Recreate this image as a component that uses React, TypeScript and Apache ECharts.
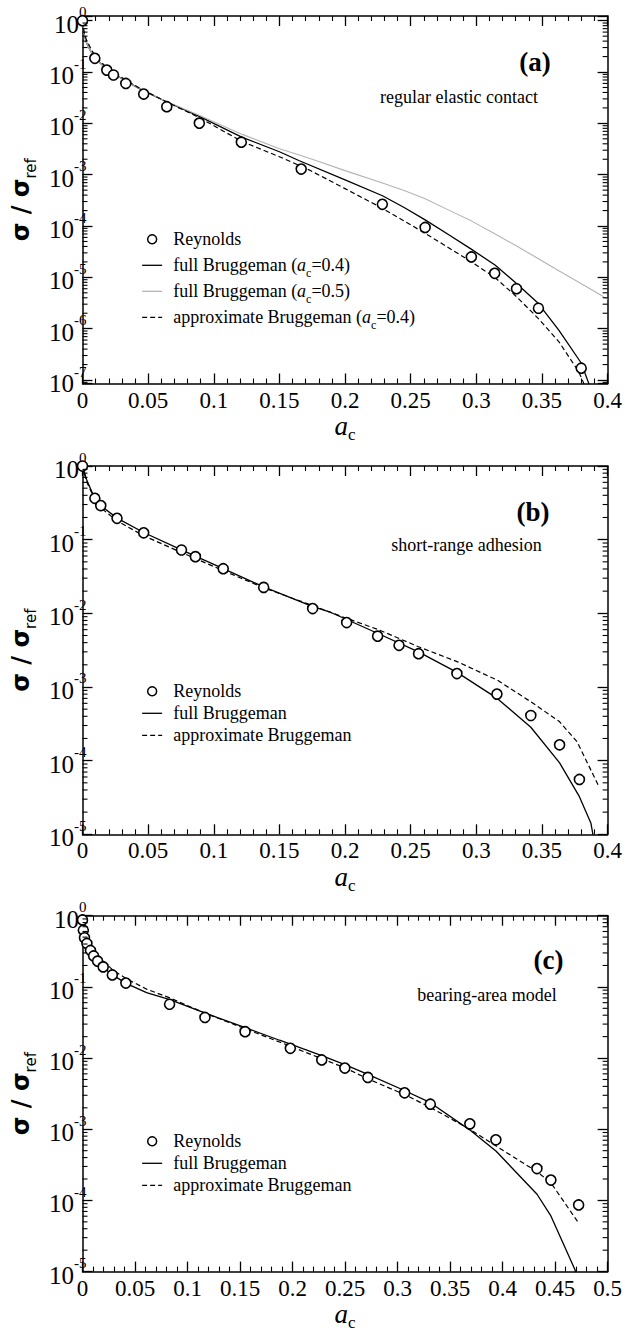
import React, { useEffect, useRef } from 'react';
import * as echarts from 'echarts';

// ---------------- data: panel (a) regular elastic contact ----------------
const aReynoldsX = [0, 0.0094, 0.0185, 0.0236, 0.033, 0.0466, 0.0642, 0.089, 0.121, 0.1666, 0.2284, 0.261, 0.2962, 0.314, 0.3306, 0.3473, 0.3799];
const aReynoldsY = [1, 0.185, 0.109, 0.0875, 0.06, 0.0373, 0.0211, 0.0101, 0.0043, 0.00129, 2.65e-4, 9.4e-5, 2.5e-5, 1.2e-5, 6.0e-6, 2.5e-6, 1.7e-7];
const aFull04X = [0, 0.0011, 0.0027, 0.0057, 0.0093, 0.0184, 0.0336, 0.0462, 0.064, 0.0893, 0.1217, 0.15, 0.1652, 0.2, 0.2285, 0.245, 0.261, 0.279, 0.2961, 0.3142, 0.3306, 0.3471, 0.3628, 0.38, 0.3856, 0.388];
const aFull04Y = [1, 0.57, 0.39, 0.27, 0.19, 0.113, 0.0649, 0.0433, 0.0264, 0.0135, 0.00535, 0.0028, 0.00187, 7.94e-4, 3.89e-4, 2.29e-4, 1.32e-4, 6.76e-5, 3.55e-5, 1.74e-5, 7.6e-6, 3.12e-6, 9.4e-7, 2.12e-7, 8.6e-8, 5e-8];
const aFull05X = [0, 0.0011, 0.0027, 0.0057, 0.0093, 0.0184, 0.0336, 0.0462, 0.064, 0.0893, 0.1217, 0.15, 0.1652, 0.18, 0.2, 0.2285, 0.245, 0.261, 0.279, 0.2961, 0.313, 0.33, 0.346, 0.3628, 0.378, 0.3944, 0.4];
const aFull05Y = [1, 0.57, 0.39, 0.27, 0.19, 0.113, 0.065, 0.0436, 0.0268, 0.0142, 0.0061, 0.0032, 0.00242, 0.0018, 0.0012, 6.92e-4, 4.9e-4, 3.39e-4, 2.04e-4, 1.26e-4, 7.33e-5, 4.17e-5, 2.41e-5, 1.35e-5, 8.0e-6, 4.57e-6, 3.72e-6];
const aApproxX = [0, 0.0011, 0.003, 0.006, 0.0093, 0.0184, 0.0336, 0.0462, 0.064, 0.0893, 0.1217, 0.15, 0.1729, 0.2, 0.2285, 0.261, 0.2961, 0.3142, 0.3306, 0.3471, 0.3628, 0.378, 0.3818, 0.383];
const aApproxY = [1, 0.62, 0.42, 0.3, 0.21, 0.122, 0.068, 0.0445, 0.0262, 0.0128, 0.0044, 0.00224, 0.00123, 5.35e-4, 2.21e-4, 7.2e-5, 2.02e-5, 9.9e-6, 4.2e-6, 1.59e-6, 5.6e-7, 1.45e-7, 8.6e-8, 5e-8];

// ---------------- data: panel (b) short-range adhesion ----------------
const bReynoldsX = [0, 0.0094, 0.0139, 0.0263, 0.0466, 0.0754, 0.086, 0.1072, 0.138, 0.1753, 0.2012, 0.2248, 0.2411, 0.256, 0.2852, 0.3157, 0.3415, 0.3634, 0.3785];
const bReynoldsY = [1, 0.364, 0.29, 0.195, 0.124, 0.0724, 0.0588, 0.0404, 0.0225, 0.0116, 0.0075, 0.0049, 0.00368, 0.00283, 0.00152, 8.0e-4, 4.1e-4, 1.64e-4, 5.55e-5];
const bFullX = [0, 0.003, 0.0094, 0.0139, 0.0263, 0.0466, 0.0754, 0.1072, 0.138, 0.175, 0.188, 0.2247, 0.2559, 0.2853, 0.3159, 0.3415, 0.3633, 0.3785, 0.3873, 0.391];
const bFullY = [1, 0.66, 0.36, 0.29, 0.196, 0.125, 0.0728, 0.0405, 0.0228, 0.0124, 0.0105, 0.00536, 0.003, 0.00158, 7.0e-4, 2.84e-4, 9.4e-5, 3.24e-5, 1.41e-5, 6e-6];
const bApproxX = [0, 0.003, 0.01, 0.0139, 0.0263, 0.0466, 0.0754, 0.1072, 0.138, 0.175, 0.2, 0.2247, 0.2559, 0.2853, 0.3159, 0.3415, 0.3633, 0.3767, 0.3927];
const bApproxY = [1, 0.62, 0.33, 0.27, 0.18, 0.113, 0.067, 0.038, 0.0222, 0.0128, 0.0087, 0.00607, 0.00352, 0.00221, 0.00124, 6.3e-4, 3.39e-4, 1.81e-4, 4.7e-5];

// ---------------- data: panel (c) bearing-area model ----------------
const cReynoldsX = [0, 0.0008, 0.0019, 0.0042, 0.0076, 0.0106, 0.0144, 0.0197, 0.0284, 0.0413, 0.0829, 0.1166, 0.1548, 0.1979, 0.2278, 0.2498, 0.2717, 0.3067, 0.3312, 0.3688, 0.3936, 0.4327, 0.446, 0.4724];
const cReynoldsY = [0.873, 0.625, 0.49, 0.408, 0.325, 0.272, 0.23, 0.191, 0.147, 0.113, 0.057, 0.0372, 0.0235, 0.0137, 0.0094, 0.00724, 0.00535, 0.00325, 0.00225, 0.00119, 7.1e-4, 2.8e-4, 1.93e-4, 8.65e-5];
const cFullX = [0, 0.001, 0.0025, 0.004, 0.0072, 0.0103, 0.0166, 0.0293, 0.042, 0.061, 0.0831, 0.1163, 0.1543, 0.1876, 0.2278, 0.2498, 0.2717, 0.3065, 0.3312, 0.3686, 0.3939, 0.4328, 0.4461, 0.4687, 0.4705];
const cFullY = [0.9, 0.65, 0.5, 0.41, 0.32, 0.27, 0.205, 0.145, 0.111, 0.083, 0.066, 0.043, 0.027, 0.0178, 0.0108, 0.0081, 0.0059, 0.0035, 0.00236, 9.8e-4, 4.9e-4, 1.22e-4, 6.0e-5, 1.08e-5, 9e-6];
const cApproxX = [0, 0.001, 0.0025, 0.005, 0.0103, 0.0166, 0.0293, 0.042, 0.061, 0.0831, 0.1163, 0.1543, 0.1876, 0.2278, 0.2498, 0.2717, 0.3065, 0.3312, 0.3686, 0.3939, 0.4328, 0.4461, 0.4724];
const cApproxY = [0.9, 0.7, 0.56, 0.45, 0.33, 0.255, 0.17, 0.13, 0.093, 0.07, 0.043, 0.026, 0.0168, 0.0098, 0.0073, 0.0051, 0.00308, 0.00203, 1.0e-3, 5.8e-4, 2.53e-4, 1.76e-4, 4.8e-5];

// ---------------- axes / labels ----------------
const xMaxes = [0.4, 0.4, 0.5];
const yRanges: [number, number][] = [[8.55e-8, 1.235], [1e-5, 1], [1e-5, 1]];
const minorMultipliers = [2, 3, 4, 5, 6, 7, 8, 9];
const panelTags = ['(a)', '(b)', '(c)'];
const panelNotes = ['regular elastic contact', 'short-range adhesion', 'bearing-area model'];
const legendNames = [
  ['a:rey', 'a:full04', 'a:full05', 'a:approx'],
  ['b:rey', 'b:full', 'b:approx'],
  ['c:rey', 'c:full', 'c:approx'],
];
const legendLabels: Record<string, string> = {
  'a:rey': 'Reynolds',
  'a:full04': 'full Bruggeman ({i|a}{s|c}=0.4)',
  'a:full05': 'full Bruggeman ({i|a}{s|c}=0.5)',
  'a:approx': 'approximate Bruggeman ({i|a}{s|c}=0.4)',
  'b:rey': 'Reynolds',
  'b:full': 'full Bruggeman',
  'b:approx': 'approximate Bruggeman',
  'c:rey': 'Reynolds',
  'c:full': 'full Bruggeman',
  'c:approx': 'approximate Bruggeman',
};

// ---------------- layout ----------------
const SERIF = "'Liberation Serif', 'Times New Roman', serif";
const GRID_LEFT = 82.5;
const GRID_W = 526.5;
const gridBoxes = [
  { top: 16, height: 367.5 },
  { top: 466, height: 368.3 },
  { top: 915.7, height: 368.3 },
];
const legendTops = [225.3, 677.3, 1127.3];
const tagPos = [[535, 62], [533, 512], [548.5, 960]];
const notePos = [[459, 97], [466.5, 545], [487, 995]];

const zip = (xs: number[], ys: number[]) => xs.map((x, i) => [x, ys[i]]);

function buildOption() {
  const grid = gridBoxes.map((g) => ({ left: GRID_LEFT, width: GRID_W, top: g.top, height: g.height, containLabel: false }));
  const axisLine = { show: true, onZero: false, lineStyle: { color: '#000', width: 1.5 } };
  const xAxis: any[] = [];
  const yAxis: any[] = [];
  for (let i = 0; i < 3; i++) {
    const xb = {
      type: 'value', gridIndex: i, min: 0, max: xMaxes[i], interval: 0.05,
      axisLine,
      axisTick: { show: true, inside: true, length: 10, lineStyle: { color: '#000', width: 1.3 } },
      minorTick: { show: true, splitNumber: 5, length: 5, lineStyle: { color: '#000', width: 1.1 } },
      splitLine: { show: false }, minorSplitLine: { show: false },
    };
    xAxis.push({
      ...xb, position: 'bottom',
      axisLabel: {
        show: true, margin: 5, color: '#000', fontFamily: SERIF, fontSize: 23,
        formatter: (v: number) => '{t|' + String(+v.toFixed(2)) + '}',
        rich: { t: { fontFamily: SERIF, fontSize: 23, color: '#000' } },
      },
      name: '{i|a}{s|c}', nameLocation: 'middle', nameGap: 7,
      nameTextStyle: {
        color: '#000', fontFamily: SERIF,
        rich: {
          i: { fontFamily: SERIF, fontStyle: 'italic', fontSize: 27, lineHeight: 34, color: '#000' },
          s: { fontFamily: SERIF, fontSize: 17, lineHeight: 34, verticalAlign: 'bottom', color: '#000' },
        },
      },
    });
    xAxis.push({ ...xb, position: 'top', axisLabel: { show: false } });

    const yb = {
      type: 'log', logBase: 10, gridIndex: i, min: yRanges[i][0], max: yRanges[i][1], splitNumber: 10,
      axisLine,
      axisTick: { show: true, inside: true, length: 10, lineStyle: { color: '#000', width: 1.3 } },
      minorTick: { show: false }, splitLine: { show: false }, minorSplitLine: { show: false },
    };
    yAxis.push({
      ...yb, position: 'left',
      axisLabel: {
        show: true, margin: -4, color: '#000', fontFamily: SERIF,
        formatter: (v: number) => {
          const e = Math.log10(v);
          if (Math.abs(e - Math.round(e)) > 1e-6) return '';
          return `{b|10}{s|${Math.round(e)}}`;
        },
        rich: {
          b: { fontFamily: SERIF, fontSize: 25, lineHeight: 32, verticalAlign: 'bottom', color: '#000' },
          s: { fontFamily: SERIF, fontSize: 15, lineHeight: 32, verticalAlign: 'top', color: '#000' },
        },
      },
      name: '{m|σ / σ}{r|ref}', nameLocation: 'middle', nameRotate: 90, nameGap: 44,
      nameTextStyle: {
        color: '#000',
        rich: {
          m: { fontFamily: 'DejaVu Sans', fontWeight: 'bold', fontSize: 24, lineHeight: 34, color: '#000' },
          r: { fontFamily: 'DejaVu Sans', fontSize: 15, lineHeight: 34, verticalAlign: 'bottom', color: '#000' },
        },
      },
    });
    yAxis.push({ ...yb, position: 'right', axisLabel: { show: false } });
  }

  const lineS = (name: string, p: number, xs: number[], ys: number[], color: string, width: number, dashed: boolean) => ({
    name, type: 'line', xAxisIndex: 2 * p, yAxisIndex: 2 * p, data: zip(xs, ys),
    symbol: 'none', showSymbol: false, smooth: false, z: 2,
    lineStyle: { color, width, type: dashed ? [5, 3] : 'solid' },
    itemStyle: { color },
  });
  const scatS = (name: string, p: number, xs: number[], ys: number[]) => ({
    name, type: 'scatter', xAxisIndex: 2 * p, yAxisIndex: 2 * p, data: zip(xs, ys),
    symbol: 'circle', symbolSize: 10, z: 3,
    itemStyle: { color: '#fff', borderColor: '#000', borderWidth: 1.6, opacity: 1 },
  });
  const minorS = (p: number) => {
    const [lo, hi] = yRanges[p];
    const vals: number[][] = [];
    for (let e = Math.floor(Math.log10(lo)) - 1; e <= Math.ceil(Math.log10(hi)); e++) {
      for (const k of minorMultipliers) {
        const v = k * Math.pow(10, e);
        if (v > lo && v < hi) vals.push([0, v]);
      }
    }
    const xMax = xMaxes[p];
    return {
      type: 'custom', xAxisIndex: 2 * p, yAxisIndex: 2 * p, silent: true, clip: false, z: 5,
      data: vals,
      renderItem: (_params: any, api: any) => {
        const v = api.value(1);
        const l = api.coord([0, v]);
        const r = api.coord([xMax, v]);
        const st = { stroke: '#000', lineWidth: 1.1 };
        return {
          type: 'group',
          children: [
            { type: 'line', shape: { x1: l[0], y1: l[1], x2: l[0] + 5, y2: l[1] }, style: st },
            { type: 'line', shape: { x1: r[0], y1: r[1], x2: r[0] - 5, y2: r[1] }, style: st },
          ],
        };
      },
    };
  };

  const series: any[] = [
    lineS('a:full04', 0, aFull04X, aFull04Y, '#000', 1.3, false),
    lineS('a:full05', 0, aFull05X, aFull05Y, '#b4b4b4', 1.1, false),
    lineS('a:approx', 0, aApproxX, aApproxY, '#000', 1.2, true),
    scatS('a:rey', 0, aReynoldsX, aReynoldsY),
    lineS('b:full', 1, bFullX, bFullY, '#000', 1.3, false),
    lineS('b:approx', 1, bApproxX, bApproxY, '#000', 1.2, true),
    scatS('b:rey', 1, bReynoldsX, bReynoldsY),
    lineS('c:full', 2, cFullX, cFullY, '#000', 1.3, false),
    lineS('c:approx', 2, cApproxX, cApproxY, '#000', 1.2, true),
    scatS('c:rey', 2, cReynoldsX, cReynoldsY),
    minorS(0), minorS(1), minorS(2),
  ];

  const legend = legendNames.map((names, p) => ({
    data: names.map((n) => n.endsWith('rey')
      ? { name: n, itemStyle: { color: '#fff', borderColor: '#000', borderWidth: 1.5 } }
      : { name: n, itemStyle: { color: 'rgba(0,0,0,0)', borderColor: 'rgba(0,0,0,0)', borderWidth: 0 } }),
    orient: 'vertical', left: 141.5, top: legendTops[p],
    itemWidth: 20, itemHeight: 9, itemGap: p === 0 ? -2 : -6,
    selectedMode: false, padding: 0,
    formatter: (n: string) => legendLabels[n],
    lineStyle: { width: 1.3 },
    textStyle: {
      fontFamily: SERIF, fontSize: 18, color: '#000', lineHeight: 28, padding: [0, 0, 0, 6],
      rich: {
        i: { fontFamily: SERIF, fontStyle: 'italic', fontSize: 18, lineHeight: 28, color: '#000' },
        s: { fontFamily: SERIF, fontSize: 12, lineHeight: 28, verticalAlign: 'bottom', color: '#000' },
      },
    },
  }));

  const graphic: any[] = [];
  for (let p = 0; p < 3; p++) {
    graphic.push({
      type: 'text', x: tagPos[p][0], y: tagPos[p][1], silent: true,
      style: { text: panelTags[p], fontFamily: SERIF, fontWeight: 'bold', fontSize: 27, fill: '#000', align: 'center', verticalAlign: 'middle' },
    });
    graphic.push({
      type: 'text', x: notePos[p][0], y: notePos[p][1], silent: true,
      style: { text: panelNotes[p], fontFamily: SERIF, fontSize: 18, fill: '#000', align: 'center', verticalAlign: 'middle' },
    });
  }

  return {
    animation: false,
    backgroundColor: '#fff',
    textStyle: { fontFamily: SERIF, color: '#000' },
    grid, xAxis, yAxis, series, legend, graphic,
  };
}

export default function App() {
  const ref = useRef<HTMLDivElement>(null);
  useEffect(() => {
    if (!ref.current) return;
    const chart = echarts.init(ref.current, undefined, { renderer: 'svg' });
    chart.setOption(buildOption() as any);
    return () => chart.dispose();
  }, []);
  return <div ref={ref} style={{ position: 'absolute', left: 0, top: 0, width: 625, height: 1332, background: '#fff' }} />;
}
